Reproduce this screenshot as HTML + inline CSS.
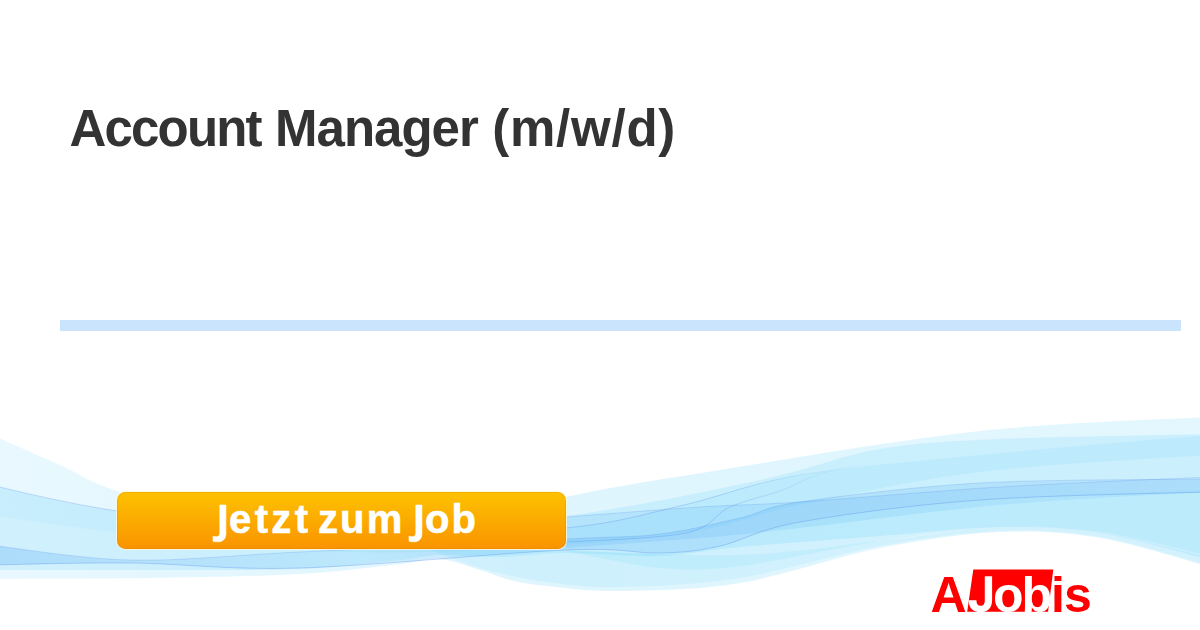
<!DOCTYPE html>
<html><head><meta charset="utf-8">
<style>
html,body{margin:0;padding:0;background:#fff;}
body{width:1200px;height:630px;position:relative;overflow:hidden;font-family:"Liberation Sans",sans-serif;}
#title span{position:absolute;top:98.5px;font-size:51px;font-weight:bold;color:#333;white-space:nowrap;line-height:60px;}
#bar{position:absolute;left:60px;top:320px;width:1121px;height:11px;background:#c9e4fc;}
#waves{position:absolute;left:0;top:0;}
#btn{position:absolute;left:117px;top:492px;width:449px;height:57px;border-radius:8.5px;background:linear-gradient(#fdc200,#fa9300);box-shadow:0 0 0 1px rgba(255,248,215,0.85),inset 0 0 0 1px rgba(190,110,0,0.18);}
.bw{position:absolute;top:491.3px;color:#fff;font-weight:bold;font-size:40px;line-height:57px;white-space:nowrap;letter-spacing:2.1px;-webkit-text-stroke:0.6px #fff;}
#btnj{position:absolute;left:0;top:0;}
#logo{position:absolute;left:0;top:0;}
</style></head><body>
<div id="title"><span style="left:69.5px;letter-spacing:-1.83px">Account</span><span style="left:275.1px;letter-spacing:-1px">Manager</span><span style="left:492.2px;letter-spacing:0.77px">(m/w/d)</span></div>
<div id="bar"></div>
<svg id="waves" width="1200" height="630">
<defs><linearGradient id="gL1" gradientUnits="userSpaceOnUse" x1="0" y1="0" x2="1200" y2="0"><stop offset="0" stop-color="#00b4f6" stop-opacity="0.09"/><stop offset="0.45" stop-color="#00b4f6" stop-opacity="0.13"/><stop offset="1" stop-color="#00b4f6" stop-opacity="0.11"/></linearGradient><linearGradient id="gP" gradientUnits="userSpaceOnUse" x1="0" y1="0" x2="1200" y2="0"><stop offset="0" stop-color="#00b4f6" stop-opacity="0.04"/><stop offset="0.4" stop-color="#00b4f6" stop-opacity="0.06"/><stop offset="1" stop-color="#00b4f6" stop-opacity="0.07"/></linearGradient><linearGradient id="gQ" gradientUnits="userSpaceOnUse" x1="0" y1="0" x2="1200" y2="0"><stop offset="0" stop-color="#1a8cf0" stop-opacity="0.2"/><stop offset="0.1" stop-color="#1a8cf0" stop-opacity="0.15"/><stop offset="0.3" stop-color="#1a8cf0" stop-opacity="0.08"/><stop offset="0.47" stop-color="#1a8cf0" stop-opacity="0.15"/><stop offset="0.6" stop-color="#1a8cf0" stop-opacity="0.15"/><stop offset="1" stop-color="#1a8cf0" stop-opacity="0.11"/></linearGradient><linearGradient id="gH" gradientUnits="userSpaceOnUse" x1="0" y1="0" x2="1200" y2="0"><stop offset="0.45" stop-color="#1a8cf0" stop-opacity="0.11"/><stop offset="0.7" stop-color="#1a8cf0" stop-opacity="0.11"/><stop offset="1" stop-color="#1a8cf0" stop-opacity="0.07"/></linearGradient><linearGradient id="gLine" gradientUnits="userSpaceOnUse" x1="0" y1="0" x2="1200" y2="0"><stop offset="0" stop-color="#4a7fe8" stop-opacity="0.28"/><stop offset="0.6" stop-color="#4a7fe8" stop-opacity="0.28"/><stop offset="0.72" stop-color="#4a7fe8" stop-opacity="0.0"/><stop offset="1" stop-color="#4a7fe8" stop-opacity="0.0"/></linearGradient></defs>
<path d="M-10.0,434.0 C1.7,439.2 38.8,455.5 60.0,465.0 C81.2,474.5 85.3,480.2 117.0,491.0 C148.7,501.8 194.5,523.5 250.0,530.0 C305.5,536.5 397.3,535.5 450.0,530.0 C502.7,524.5 521.0,507.0 566.0,497.0 C611.0,487.0 651.0,481.0 720.0,470.0 C789.0,459.0 898.3,439.8 980.0,431.0 C1061.7,422.2 1171.7,419.3 1210.0,417.0 L1210.0,567.0 C1191.7,562.2 1135.0,543.8 1100.0,538.0 C1065.0,532.2 1036.7,530.3 1000.0,532.0 C963.3,533.7 923.3,539.5 880.0,548.0 C836.7,556.5 783.3,575.8 740.0,583.0 C696.7,590.2 652.2,590.5 620.0,591.0 C587.8,591.5 565.3,587.8 547.0,586.0 C528.7,584.2 520.7,582.5 510.0,580.0 C499.3,577.5 494.7,574.5 483.0,571.0 C471.3,567.5 453.8,560.2 440.0,559.0 C426.2,557.8 423.3,561.5 400.0,564.0 C376.7,566.5 341.7,571.7 300.0,574.0 C258.3,576.3 201.7,577.2 150.0,578.0 C98.3,578.8 16.7,578.8 -10.0,579.0 Z" fill="url(#gL1)" fill-opacity="1"/>
<path d="M-10.0,485.0 C11.2,489.3 57.0,502.7 117.0,511.0 C177.0,519.3 275.2,534.2 350.0,535.0 C424.8,535.8 497.7,525.2 566.0,516.0 C634.3,506.8 707.7,491.2 760.0,480.0 C812.3,468.8 840.0,455.8 880.0,449.0 C920.0,442.2 945.0,441.5 1000.0,439.0 C1055.0,436.5 1175.0,434.8 1210.0,434.0 L1210.0,560.0 C1191.7,555.5 1135.0,538.5 1100.0,533.0 C1065.0,527.5 1036.7,526.5 1000.0,527.0 C963.3,527.5 923.3,532.7 880.0,536.0 C836.7,539.3 776.7,543.7 740.0,547.0 C703.3,550.3 689.0,555.0 660.0,556.0 C631.0,557.0 592.7,552.8 566.0,553.0 C539.3,553.2 521.0,556.7 500.0,557.0 C479.0,557.3 456.7,554.5 440.0,555.0 C423.3,555.5 423.3,557.7 400.0,560.0 C376.7,562.3 341.7,567.3 300.0,569.0 C258.3,570.7 201.7,569.8 150.0,570.0 C98.3,570.2 16.7,570.0 -10.0,570.0 Z" fill="#00b4f6" fill-opacity="0.1"/>
<path d="M566.0,550.0 C581.7,550.5 634.3,553.7 660.0,553.0 C685.7,552.3 696.7,551.2 720.0,546.0 C743.3,540.8 756.7,529.7 800.0,522.0 C843.3,514.3 911.7,505.3 980.0,500.0 C1048.3,494.7 1171.7,491.7 1210.0,490.0 L1210.0,556.0 C1191.7,552.0 1135.0,536.8 1100.0,532.0 C1065.0,527.2 1036.7,525.5 1000.0,527.0 C963.3,528.5 923.3,534.5 880.0,541.0 C836.7,547.5 776.7,561.5 740.0,566.0 C703.3,570.5 689.0,570.5 660.0,568.0 C631.0,565.5 581.7,553.8 566.0,551.0 Z" fill="#00b4f6" fill-opacity="0.07"/>
<path d="M430.0,549.0 C452.7,549.3 514.3,550.0 566.0,551.0 C617.7,552.0 687.7,556.7 740.0,555.0 C792.3,553.3 836.7,545.7 880.0,541.0 C923.3,536.3 963.3,528.3 1000.0,527.0 C1036.7,525.7 1065.0,527.8 1100.0,533.0 C1135.0,538.2 1191.7,553.8 1210.0,558.0 L1210.0,566.0 C1191.7,561.2 1135.0,542.8 1100.0,537.0 C1065.0,531.2 1036.7,529.5 1000.0,531.0 C963.3,532.5 923.3,538.2 880.0,546.0 C836.7,553.8 783.3,571.2 740.0,578.0 C696.7,584.8 652.2,586.3 620.0,587.0 C587.8,587.7 569.8,585.0 547.0,582.0 C524.2,579.0 502.3,574.3 483.0,569.0 C463.7,563.7 439.7,553.2 431.0,550.0 Z" fill="#00b4f6" fill-opacity="0.07"/>
<path d="M-10.0,485.0 C11.2,489.3 57.0,501.8 117.0,511.0 C177.0,520.2 275.2,537.2 350.0,540.0 C424.8,542.8 511.0,533.7 566.0,528.0 C621.0,522.3 641.0,514.8 680.0,506.0 C719.0,497.2 750.0,483.5 800.0,475.0 C850.0,466.5 911.7,461.7 980.0,455.0 C1048.3,448.3 1171.7,438.3 1210.0,435.0 L1210.0,455.0 C1171.7,457.8 1048.3,463.7 980.0,472.0 C911.7,480.3 846.7,495.3 800.0,505.0 C753.3,514.7 739.0,523.3 700.0,530.0 C661.0,536.7 624.3,541.3 566.0,545.0 C507.7,548.7 424.8,554.2 350.0,552.0 C275.2,549.8 177.0,538.2 117.0,532.0 C57.0,525.8 11.2,517.8 -10.0,515.0 Z" fill="url(#gP)" fill-opacity="1"/>
<path d="M-10.0,545.0 C13.3,547.5 78.3,558.8 130.0,560.0 C181.7,561.2 227.3,555.5 300.0,552.0 C372.7,548.5 506.0,542.0 566.0,539.0 C626.0,536.0 631.0,537.5 660.0,534.0 C689.0,530.5 716.7,523.3 740.0,518.0 C763.3,512.7 760.0,507.8 800.0,502.0 C840.0,496.2 911.7,486.8 980.0,483.0 C1048.3,479.2 1171.7,479.7 1210.0,479.0 L1210.0,492.0 C1171.7,493.3 1048.3,495.0 980.0,500.0 C911.7,505.0 843.3,514.3 800.0,522.0 C756.7,529.7 743.3,540.8 720.0,546.0 C696.7,551.2 685.7,552.3 660.0,553.0 C634.3,553.7 626.0,547.5 566.0,550.0 C506.0,552.5 372.7,565.8 300.0,568.0 C227.3,570.2 181.7,563.5 130.0,563.0 C78.3,562.5 13.3,564.7 -10.0,565.0 Z" fill="url(#gQ)" fill-opacity="1"/>
<path d="M566.0,517.0 C588.3,515.3 661.0,509.5 700.0,507.0 C739.0,504.5 750.0,505.3 800.0,502.0 C850.0,498.7 931.7,491.2 1000.0,487.0 C1068.3,482.8 1175.0,478.7 1210.0,477.0 L1210.0,492.0 C1175.0,494.2 1068.3,499.0 1000.0,505.0 C931.7,511.0 850.0,522.5 800.0,528.0 C750.0,533.5 739.0,534.7 700.0,538.0 C661.0,541.3 588.3,546.3 566.0,548.0 Z" fill="url(#gH)" fill-opacity="1"/>
<path d="M-10.0,485.0 C11.2,489.3 57.0,501.8 117.0,511.0 C177.0,520.2 275.2,537.2 350.0,540.0 C424.8,542.8 511.0,533.7 566.0,528.0 C621.0,522.3 641.0,514.8 680.0,506.0 C719.0,497.2 750.0,483.5 800.0,475.0 C850.0,466.5 911.7,461.7 980.0,455.0 C1048.3,448.3 1171.7,438.3 1210.0,435.0" fill="none" stroke="url(#gLine)" stroke-width="1"/>
<path d="M566.0,542.0 C586.0,540.5 658.7,538.8 686.0,533.0 C713.3,527.2 714.3,514.0 730.0,507.0 C745.7,500.0 761.7,497.3 780.0,491.0 C798.3,484.7 806.7,475.5 840.0,469.0 C873.3,462.5 918.3,458.2 980.0,452.0 C1041.7,445.8 1171.7,435.3 1210.0,432.0" fill="none" stroke="url(#gLine)" stroke-width="1"/>
<path d="M-10.0,545.0 C13.3,547.5 78.3,558.8 130.0,560.0 C181.7,561.2 227.3,555.5 300.0,552.0 C372.7,548.5 506.0,542.0 566.0,539.0 C626.0,536.0 631.0,537.5 660.0,534.0 C689.0,530.5 716.7,523.3 740.0,518.0 C763.3,512.7 760.0,507.8 800.0,502.0 C840.0,496.2 911.7,486.8 980.0,483.0 C1048.3,479.2 1171.7,479.7 1210.0,479.0" fill="none" stroke="#4a7fe8" stroke-opacity="0.2" stroke-width="1"/>
<path d="M-10.0,565.0 C13.3,564.7 78.3,562.5 130.0,563.0 C181.7,563.5 227.3,570.2 300.0,568.0 C372.7,565.8 506.0,552.5 566.0,550.0 C626.0,547.5 634.3,553.7 660.0,553.0 C685.7,552.3 696.7,551.2 720.0,546.0 C743.3,540.8 756.7,529.7 800.0,522.0 C843.3,514.3 911.7,505.0 980.0,500.0 C1048.3,495.0 1171.7,493.3 1210.0,492.0" fill="none" stroke="#4a7fe8" stroke-opacity="0.3" stroke-width="1"/>
<path d="M566.0,517.0 C588.3,515.3 661.0,509.5 700.0,507.0 C739.0,504.5 750.0,505.3 800.0,502.0 C850.0,498.7 931.7,491.2 1000.0,487.0 C1068.3,482.8 1175.0,478.7 1210.0,477.0" fill="none" stroke="#4a7fe8" stroke-opacity="0.2" stroke-width="1"/>
</svg>
<div id="btn"></div>
<div class="bw" style="left:229px;letter-spacing:3.4px">etzt</div><div class="bw" style="left:318px">zum</div><div class="bw" style="left:425px">ob</div>
<svg id="btnj" width="1200" height="630"><g fill="#fff" stroke="#fff" stroke-width="0.6">
<path d="M219.8,505 H225.9 V533.5 C225.9,539 223,541.8 218,541.8 C215.5,541.8 214,541.5 213,541.2 V536.2 C214,536.5 215.2,536.7 216.2,536.7 C218.6,536.7 219.8,535.5 219.8,532.5 Z"/>
<path transform="translate(196,0)" d="M219.8,505 H225.9 V533.5 C225.9,539 223,541.8 218,541.8 C215.5,541.8 214,541.5 213,541.2 V536.2 C214,536.5 215.2,536.7 216.2,536.7 C218.6,536.7 219.8,535.5 219.8,532.5 Z"/>
</g></svg>
<svg id="logo" width="1200" height="630">
<polygon points="973.3,569.4 1053.3,569.4 1048,611.7 967.2,611.7" fill="#f00"/>
<g font-family="Liberation Sans" font-weight="bold" font-size="50">
<text x="930.5" y="612" fill="#f00">A</text>
<path d="M984.8,576.2 H992.1 V600 C992.1,608.5 987.5,612.2 980.5,612.2 C972.5,612.2 968.7,607.5 968.7,600.3 H976.4 C976.4,604 978,605.8 980.6,605.8 C983.5,605.8 984.8,604 984.8,600 Z" fill="#fff"/>
<text x="993" y="612" fill="#fff">o</text>
<text x="1021.4" y="612" fill="#fff">b</text>
<text x="1051" y="612" fill="#f00">i</text>
<text x="1064" y="612" fill="#f00">s</text>
</g>
</svg>
</body></html>
